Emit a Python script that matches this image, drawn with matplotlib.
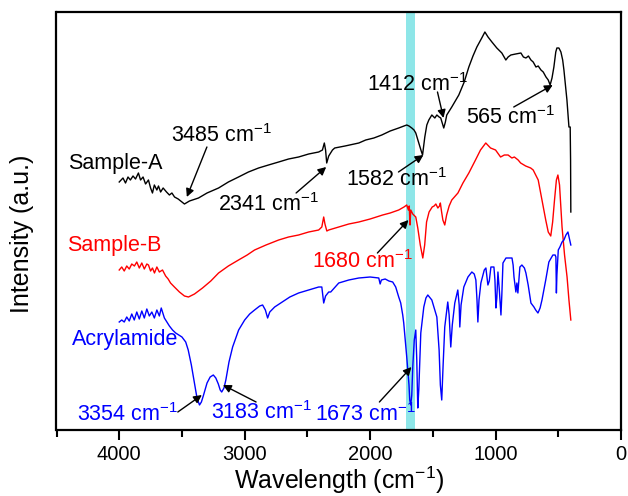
import numpy as np
import matplotlib
matplotlib.use("Agg")
import matplotlib.pyplot as plt

plt.rcParams['font.family'] = ['Liberation Sans', 'DejaVu Sans']
plt.rcParams['mathtext.default'] = 'regular'

# ---- data (wavenumber, arbitrary intensity) ----
a_w = [4000, 3970, 3950, 3930, 3911, 3890, 3870, 3847, 3830, 3810, 3790, 3767, 3750, 3735, 3720, 3700,
       3687, 3670, 3650, 3623, 3600, 3580, 3559, 3530, 3500, 3480, 3440, 3368, 3300, 3208, 3130, 3049,
       2970, 2889, 2810, 2729, 2650, 2570, 2490, 2410, 2380, 2365, 2355, 2346, 2330, 2300, 2282, 2200,
       2090, 2035, 1970, 1907, 1840, 1772, 1730, 1708, 1690, 1668, 1650, 1636, 1612, 1595, 1582, 1564,
       1548, 1532, 1508, 1484, 1468, 1450, 1437, 1425, 1413, 1400, 1389, 1349, 1293, 1250, 1213, 1180,
       1149, 1110, 1085, 1060, 1029, 990, 950, 918, 900, 878, 840, 798, 778, 758, 738, 718, 700, 678,
       660, 638, 620, 598, 580, 565, 550, 535, 520, 511, 495, 479, 465, 455, 443, 431, 415, 405, 402, 400]
a_px = [182, 178, 183, 177, 180, 176, 179, 173, 180, 177, 184, 180, 188, 193, 185, 190,
        186, 192, 188, 192, 195, 193, 197, 199, 202, 204, 201, 198, 193, 188, 182, 177,
        172, 168, 165, 162, 159, 157, 154, 152, 150, 143, 150, 163, 156, 150, 148, 146,
        143, 140, 138, 135, 131, 128, 126, 125, 126, 128, 130, 133, 143, 150, 155, 137,
        125, 120, 115, 118, 115, 117, 118, 123, 128, 122, 115, 107, 95, 82, 67, 56,
        47, 38, 32, 37, 42, 48, 53, 60, 57, 55, 54, 53, 57, 58, 56, 60, 62, 67,
        66, 70, 72, 77, 80, 85, 78, 67, 52, 48, 48, 52, 60, 70, 85, 100, 127, 127, 160, 212]

b_w = [4000, 3980, 3960, 3940, 3920, 3900, 3879, 3860, 3840, 3820, 3800, 3780, 3767, 3750, 3735, 3719,
       3700, 3680, 3655, 3630, 3610, 3591, 3560, 3520, 3480, 3448, 3400, 3336, 3270, 3208, 3130, 3049,
       2980, 2921, 2830, 2729, 2650, 2570, 2490, 2410, 2385, 2370, 2360, 2345, 2330, 2250, 2170, 2090,
       2000, 1900, 1840, 1772, 1730, 1708, 1695, 1688, 1682, 1676, 1660, 1636, 1620, 1600, 1580, 1565,
       1550, 1530, 1505, 1490, 1476, 1460, 1447, 1440, 1430, 1420, 1405, 1390, 1370, 1349, 1300, 1260,
       1213, 1160, 1120, 1078, 1040, 1000, 960, 930, 900, 870, 850, 820, 800, 760, 720, 700,
       660, 630, 600, 580, 560, 545, 530, 515, 503, 490, 470, 450, 430, 415, 400]
b_px = [270, 267, 271, 266, 269, 264, 266, 262, 268, 263, 269, 264, 265, 271, 268, 273,
        267, 272, 270, 276, 279, 283, 287, 292, 296, 297, 294, 288, 281, 273, 266, 260,
        255, 250, 245, 240, 237, 235, 232, 230, 227, 217, 224, 231, 230, 227, 224, 222,
        219, 215, 213, 210, 207, 205, 210, 206, 225, 210, 214, 217, 228, 245, 258, 245,
        222, 212, 207, 206, 204, 208, 206, 203, 212, 220, 225, 215, 206, 200, 193, 183,
        173, 160, 150, 143, 148, 150, 157, 155, 155, 158, 157, 160, 163, 166, 168, 170,
        180, 200, 220, 232, 236, 222, 200, 180, 175, 185, 227, 255, 277, 300, 320]

c_w = [4000, 3980, 3960, 3940, 3920, 3900, 3880, 3860, 3840, 3820, 3800, 3780, 3760, 3740, 3720, 3700,
       3680, 3665, 3655, 3640, 3620, 3600, 3575, 3550, 3500, 3470, 3450, 3425, 3400, 3380, 3360, 3345,
       3330, 3300, 3275, 3250, 3230, 3210, 3195, 3183, 3165, 3150, 3125, 3096, 3048, 3000, 2960, 2921,
       2880, 2857, 2835, 2817, 2800, 2761, 2700, 2640, 2570, 2490, 2410, 2385, 2370, 2355, 2330, 2314,
       2250, 2170, 2090, 2000, 1931, 1920, 1910, 1880, 1850, 1820, 1796, 1772, 1756, 1740, 1732, 1708,
       1690, 1684, 1676, 1668, 1660, 1648, 1636, 1628, 1620, 1612, 1596, 1572, 1555, 1540, 1508, 1468,
       1450, 1440, 1429, 1418, 1405, 1381, 1370, 1357, 1345, 1325, 1301, 1290, 1285, 1275, 1253, 1220,
       1189, 1170, 1157, 1148, 1141, 1132, 1117, 1090, 1077, 1061, 1050, 1037, 1013, 1005, 997, 990,
       981, 970, 957, 950, 941, 917, 869, 860, 853, 845, 838, 830, 822, 814, 806, 790,
       770, 758, 740, 718, 694, 680, 662, 645, 630, 600, 575, 543, 525, 519, 515, 511,
       500, 487, 470, 455, 439, 423, 412, 400]
c_px = [322, 320, 322, 317, 321, 314, 320, 312, 319, 311, 318, 309, 316, 312, 318, 310,
        316, 308, 312, 318, 322, 326, 330, 333, 337, 342, 350, 365, 383, 398, 405, 402,
        396, 383, 377, 375, 378, 384, 390, 392, 388, 380, 362, 347, 330, 320, 314, 310,
        306, 305, 310, 318, 312, 307, 302, 297, 293, 290, 287, 287, 303, 296, 292, 292,
        283, 280, 278, 277, 278, 284, 280, 279, 281, 282, 287, 297, 303, 315, 323, 357,
        385, 400, 405, 395, 367, 340, 330, 360, 408, 390, 333, 307, 298, 295, 300, 317,
        350, 385, 400, 365, 327, 302, 315, 347, 325, 303, 290, 305, 327, 305, 287, 277,
        272, 274, 280, 300, 322, 300, 283, 270, 268, 285, 281, 267, 267, 280, 308, 298,
        272, 290, 315, 295, 263, 258, 258, 265, 277, 285, 292, 283, 293, 280, 267, 265,
        268, 273, 285, 303, 307, 310, 313, 308, 300, 280, 262, 255, 255, 257, 293, 275,
        250, 247, 242, 240, 235, 232, 238, 245]

BASE = 430  # intensity = BASE - reading
sample_a = [BASE - v for v in a_px]
sample_b = [BASE - v for v in b_px]
acryl = [BASE - v for v in c_px]

series_names = ["Sample-A", "Sample-B", "Acrylamide"]
series_colors = ["black", "#ff0000", "#0000ff"]

xticks = [4000, 3000, 2000, 1000, 0]

# annotations: label, tip (w, v), tail (w, v), text center (w, v), color
annots = [
    ("3485", (3461, 233), (3301, 283), (3181, 294), "black"),
    ("2341", (2350, 263), (2590, 237), (2813, 225), "black"),
    ("1582", (1575, 275), (1774, 258), (1790, 250), "black"),
    ("1412", (1415, 312), (1463, 338), (1623, 345), "black"),
    ("565", (544, 345), (855, 323), (879, 312), "black"),
    ("1680", (1694, 210), (1942, 177), (2062, 168), "#ff0000"),
    ("3354", (3341, 35), (3533, 18), (3933, 15), "#0000ff"),
    ("3183", (3173, 45), (2909, 28), (2869, 17), "#0000ff"),
    ("1673", (1670, 63), (1926, 28), (2038, 15), "#0000ff"),
]

name_pos = [(4028, 267), (4036, 185), (3956, 90)]

# ---- figure ----
fig = plt.figure(figsize=(6.28, 4.96), dpi=100)
ax = fig.add_axes([56.5 / 628, 66 / 496, 564.5 / 628, 418 / 496])

ax.axvspan(1645, 1715, color="#8ee6e8", zorder=0, lw=0)

for w, v, col in zip([a_w, b_w, c_w], [sample_a, sample_b, acryl], series_colors):
    ax.plot(w, v, color=col, lw=1.0, zorder=2)

for (lab, tip, tail, tc, col) in annots:
    ax.annotate("", xy=tip, xytext=tail,
                arrowprops=dict(arrowstyle="-|>", color="black", lw=1.0,
                                mutation_scale=12, shrinkA=0, shrinkB=0), zorder=3)
    ax.text(tc[0], tc[1], lab + " cm$^{-1}$", color=col, fontsize=15.5,
            ha="center", va="center", zorder=4)

for name, pos, col in zip(series_names, name_pos, series_colors):
    ax.text(pos[0], pos[1], name, color=col, fontsize=15.5, ha="center", va="center")

ax.set_xlim(4500, 0)
ax.set_ylim(0, 418)
ax.set_xticks(xticks)
ax.set_xticklabels([str(t) for t in xticks], fontsize=14.5)
ax.set_xticks([4500, 3500, 2500, 1500, 500], minor=True)
ax.tick_params(axis="x", which="major", direction="out", length=7, width=1.5, pad=4)
ax.tick_params(axis="x", which="minor", direction="out", length=5, width=1.5)
ax.set_yticks([])
for s in ax.spines.values():
    s.set_linewidth(1.6)

ax.set_xlabel("Wavelength (cm$^{-1}$)", fontsize=18, labelpad=0)
ax.set_ylabel("Intensity (a.u.)", fontsize=18)
ax.yaxis.set_label_coords(-0.039, 0.47)

fig.savefig("out.png", dpi=100)
